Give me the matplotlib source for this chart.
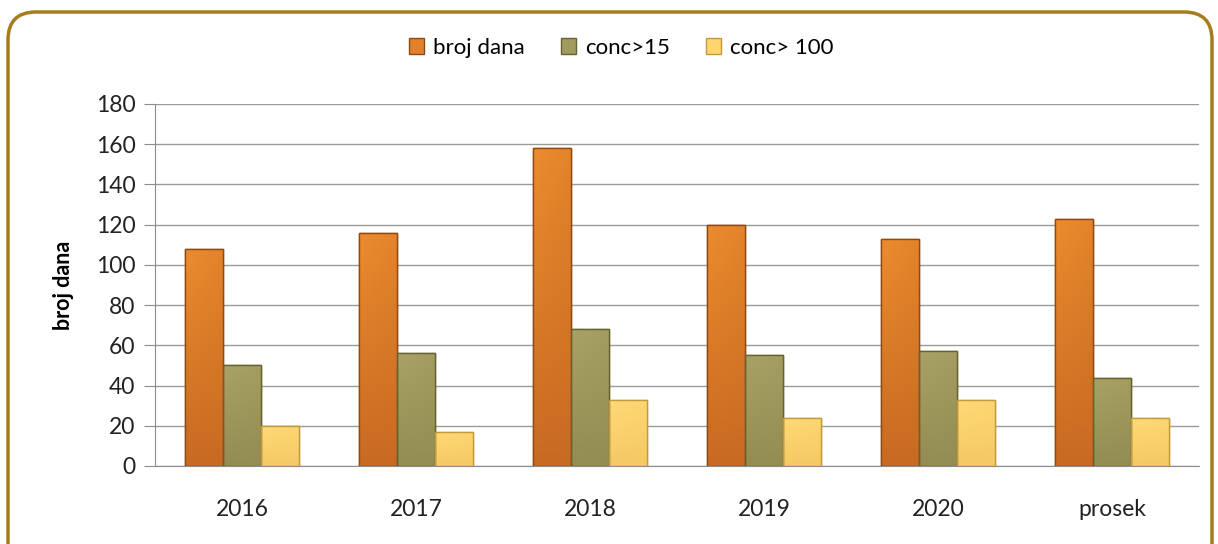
import numpy as np
import matplotlib.pyplot as plt
from matplotlib.patches import FancyBboxPatch
from matplotlib.colors import LinearSegmentedColormap

plt.rcParams['font.family'] = ['Lato', 'DejaVu Sans']

# data
categories = ['2016', '2017', '2018', '2019', '2020', 'prosek']
broj_dana = [108, 116, 158, 120, 113, 123]
conc_15 = [50, 56, 68, 55, 57, 44]
conc_100 = [20, 17, 33, 24, 33, 24]
series_names = ['broj dana', 'conc>15', 'conc> 100']

colors = ['#E2812C', '#A29B5E', '#FFD56E']
lights = ['#EC8C2E', '#A9A266', '#FFDA76']
darks = ['#C86A22', '#938D53', '#F5C964']
edges = ['#8E4A12', '#66622F', '#C29A3C']

W, H = 1218, 544
fig = plt.figure(figsize=(W / 100, H / 100), dpi=100)

# rounded gold frame
bg = fig.add_axes([0, 0, 1, 1])
bg.set_xlim(0, W)
bg.set_ylim(H, 0)
bg.axis('off')
frame = FancyBboxPatch((8, 12), 1204, 560, boxstyle='round,pad=0,rounding_size=28',
                       facecolor='white', edgecolor='#A67C1E', linewidth=2.5)
bg.add_patch(frame)

ax = fig.add_axes([155 / W, 1 - 466 / H, (1199 - 155) / W, (466 - 104) / H])
ax.set_facecolor('none')

x = np.arange(len(categories))
w = 0.22
grad = np.linspace(1, 0, 64).reshape(-1, 1) * np.linspace(1, 0.75, 16).reshape(1, -1)
for i, (vals, name) in enumerate(zip([broj_dana, conc_15, conc_100], series_names)):
    bars = ax.bar(x + (i - 1) * w, vals, w, color=colors[i], edgecolor=edges[i],
                  linewidth=1.0, label=name, zorder=3)
    cmap = LinearSegmentedColormap.from_list('g%d' % i, [darks[i], lights[i]])
    for b in bars:
        bx, by = b.get_x(), b.get_y()
        bw, bh = b.get_width(), b.get_height()
        im = ax.imshow(grad, cmap=cmap, extent=[bx, bx + bw, by, by + bh],
                       aspect='auto', zorder=3.5, vmin=0, vmax=1, origin='upper')
        im.set_clip_path(b)
        ax.bar(bx + bw / 2, bh, bw, facecolor='none', edgecolor=edges[i],
               linewidth=1.0, zorder=4)

ax.set_ylim(0, 180)
ax.set_xlim(-0.5, len(categories) - 0.5)
ax.set_yticks(range(0, 181, 20))
ax.set_xticks(x)
ax.set_xticklabels(categories)
ax.grid(axis='y', color='#9A9A9A', linewidth=1.0, zorder=0)
for s in ['top', 'right']:
    ax.spines[s].set_visible(False)
for s in ['left', 'bottom']:
    ax.spines[s].set_color('#8C8C8C')
ax.tick_params(axis='y', length=8, color='#8C8C8C', labelsize=16.5, pad=6, labelcolor='#222222')
ax.tick_params(axis='x', length=0, labelsize=16.5, pad=24, labelcolor='#222222')
ax.set_ylabel('broj dana', fontsize=15.5, fontweight='bold', labelpad=16)

ax.legend(loc='center', bbox_to_anchor=(0.51, 1 - 48 / H), bbox_transform=fig.transFigure,
          ncol=3, frameon=False, fontsize=16, handlelength=0.7, handleheight=0.7,
          handletextpad=0.4, columnspacing=1.6)

fig.savefig('out.png', dpi=100)
